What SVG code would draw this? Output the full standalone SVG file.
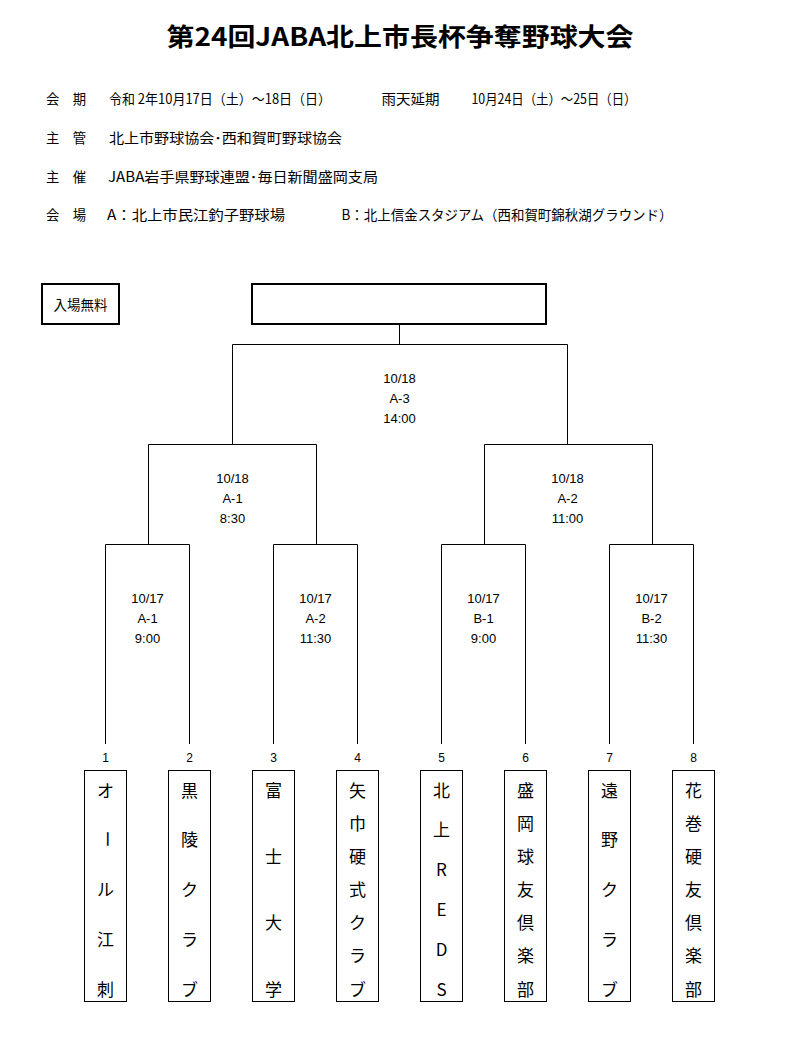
<svg xmlns="http://www.w3.org/2000/svg" width="808" height="1057" viewBox="0 0 808 1057">
<style>
  .jp { font-family: "Noto Sans CJK JP", "Liberation Sans", sans-serif; fill: #000; }
  .hd { font-size: 14px; dominant-baseline: central; }
  .lbl { font-family: "Liberation Sans", "Noto Sans CJK JP", sans-serif; font-size: 13px; text-anchor: middle; dominant-baseline: central; fill: #000; }
  .num { font-family: "Liberation Sans", sans-serif; font-size: 12px; text-anchor: middle; dominant-baseline: central; fill: #000; }
  .team { font-family: "Noto Sans CJK JP", "Liberation Sans", sans-serif; font-size: 17px; font-weight: 400; text-anchor: middle; dominant-baseline: central; fill: #000; }
  .box { fill: #fff; stroke: #000; stroke-width: 1; }
  .thick { fill: #fff; stroke: #000; stroke-width: 2; }
  .ln { fill: none; stroke: #000; stroke-width: 1; }
</style>
<rect width="808" height="1057" fill="#fff"/>

<g id="title">
  <text class="jp" x="166.5" y="35" font-size="25" font-weight="bold" dominant-baseline="central" textLength="467" lengthAdjust="spacingAndGlyphs">第24回JABA北上市長杯争奪野球大会</text>
</g>

<g id="info">
  <text class="jp hd" x="46" y="98" textLength="40" lengthAdjust="spacingAndGlyphs">会　期</text>
  <text class="jp hd" x="109" y="98" textLength="222" lengthAdjust="spacingAndGlyphs">令和 2年10月17日（土）～18日（日）</text>
  <text class="jp hd" x="381.5" y="98" textLength="58" lengthAdjust="spacingAndGlyphs">雨天延期</text>
  <text class="jp hd" x="471.5" y="98" textLength="165" lengthAdjust="spacingAndGlyphs">10月24日（土）～25日（日）</text>

  <text class="jp hd" x="46" y="137" textLength="40" lengthAdjust="spacingAndGlyphs">主　管</text>
  <text class="jp hd" x="109" y="137" textLength="233" lengthAdjust="spacingAndGlyphs">北上市野球協会･西和賀町野球協会</text>

  <text class="jp hd" x="46" y="176" textLength="40" lengthAdjust="spacingAndGlyphs">主　催</text>
  <text class="jp hd" x="108" y="176" textLength="270" lengthAdjust="spacingAndGlyphs">JABA岩手県野球連盟･毎日新聞盛岡支局</text>

  <text class="jp hd" x="46" y="214" textLength="40" lengthAdjust="spacingAndGlyphs">会　場</text>
  <text class="jp hd" x="107" y="214" textLength="178" lengthAdjust="spacingAndGlyphs">A：北上市民江釣子野球場</text>
  <text class="jp hd" x="341.5" y="214" textLength="331" lengthAdjust="spacingAndGlyphs">B：北上信金スタジアム（西和賀町錦秋湖グラウンド）</text>
</g>

<g id="free-admission">
  <rect class="thick" x="42" y="284" width="77" height="40"/>
  <text class="jp" x="80.5" y="304" font-size="13.5" text-anchor="middle" dominant-baseline="central">入場無料</text>
</g>

<g id="champion">
  <rect class="thick" x="252" y="284" width="294" height="40"/>
</g>

<g id="connectors">
  <path class="ln" d="M399.5 324 V344.5"/>
  <path class="ln" d="M232.5 444 V344.5 H567.5 V444"/>
  <path class="ln" d="M148.5 544 V444.5 H316.5 V544"/>
  <path class="ln" d="M484.5 544 V444.5 H652.5 V544"/>
  <path class="ln" d="M105.5 744 V544.5 H189.5 V744"/>
  <path class="ln" d="M273.5 744 V544.5 H357.5 V744"/>
  <path class="ln" d="M441.5 744 V544.5 H525.5 V744"/>
  <path class="ln" d="M609.5 744 V544.5 H693.5 V744"/>
</g>

<g id="match-final">
  <text class="lbl" x="399.5" y="378">10/18</text>
  <text class="lbl" x="399.5" y="398">A-3</text>
  <text class="lbl" x="399.5" y="418">14:00</text>
</g>
<g id="match-semi-1">
  <text class="lbl" x="232.5" y="478">10/18</text>
  <text class="lbl" x="232.5" y="498">A-1</text>
  <text class="lbl" x="232.5" y="518">8:30</text>
</g>
<g id="match-semi-2">
  <text class="lbl" x="567.5" y="478">10/18</text>
  <text class="lbl" x="567.5" y="498">A-2</text>
  <text class="lbl" x="567.5" y="518">11:00</text>
</g>
<g id="match-r1-1">
  <text class="lbl" x="147.5" y="598">10/17</text>
  <text class="lbl" x="147.5" y="618">A-1</text>
  <text class="lbl" x="147.5" y="638">9:00</text>
</g>
<g id="match-r1-2">
  <text class="lbl" x="315.5" y="598">10/17</text>
  <text class="lbl" x="315.5" y="618">A-2</text>
  <text class="lbl" x="315.5" y="638">11:30</text>
</g>
<g id="match-r1-3">
  <text class="lbl" x="483.5" y="598">10/17</text>
  <text class="lbl" x="483.5" y="618">B-1</text>
  <text class="lbl" x="483.5" y="638">9:00</text>
</g>
<g id="match-r1-4">
  <text class="lbl" x="651.5" y="598">10/17</text>
  <text class="lbl" x="651.5" y="618">B-2</text>
  <text class="lbl" x="651.5" y="638">11:30</text>
</g>

<g id="team-1">
  <text class="num" x="105.5" y="758">1</text>
  <rect class="box" x="84.5" y="770.5" width="42" height="231"/>
  <text class="team" x="105.5 109 105.5 105.5 105.5" y="789 823 888.5 938.25 988" rotate="0 90 0 0 0">オール江刺</text>
</g>
<g id="team-2">
  <text class="num" x="189.5" y="758">2</text>
  <rect class="box" x="168.5" y="770.5" width="42" height="231"/>
  <text class="team" x="189.5 189.5 189.5 189.5 189.5" y="789 838.75 888.5 938.25 988">黒陵クラブ</text>
</g>
<g id="team-3">
  <text class="num" x="273.5" y="758">3</text>
  <rect class="box" x="252.5" y="770.5" width="42" height="231"/>
  <text class="team" x="273.5 273.5 273.5 273.5" y="789 855.33 921.67 988">富士大学</text>
</g>
<g id="team-4">
  <text class="num" x="357.5" y="758">4</text>
  <rect class="box" x="336.5" y="770.5" width="42" height="231"/>
  <text class="team" x="357.5 357.5 357.5 357.5 357.5 357.5 357.5" y="789 822.17 855.33 888.5 921.67 954.83 988">矢巾硬式クラブ</text>
</g>
<g id="team-5">
  <text class="num" x="441.5" y="758">5</text>
  <rect class="box" x="420.5" y="770.5" width="42" height="231"/>
  <text class="team" x="441.5 441.5 441.5 441.5 441.5 441.5" y="789 828.8 868.6 908.4 948.2 988">北上REDS</text>
</g>
<g id="team-6">
  <text class="num" x="525.5" y="758">6</text>
  <rect class="box" x="504.5" y="770.5" width="42" height="231"/>
  <text class="team" x="525.5 525.5 525.5 525.5 525.5 525.5 525.5" y="789 822.17 855.33 888.5 921.67 954.83 988">盛岡球友倶楽部</text>
</g>
<g id="team-7">
  <text class="num" x="609.5" y="758">7</text>
  <rect class="box" x="588.5" y="770.5" width="42" height="231"/>
  <text class="team" x="609.5 609.5 609.5 609.5 609.5" y="789 838.75 888.5 938.25 988">遠野クラブ</text>
</g>
<g id="team-8">
  <text class="num" x="693.5" y="758">8</text>
  <rect class="box" x="672.5" y="770.5" width="42" height="231"/>
  <text class="team" x="693.5 693.5 693.5 693.5 693.5 693.5 693.5" y="789 822.17 855.33 888.5 921.67 954.83 988">花巻硬友倶楽部</text>
</g>
</svg>
